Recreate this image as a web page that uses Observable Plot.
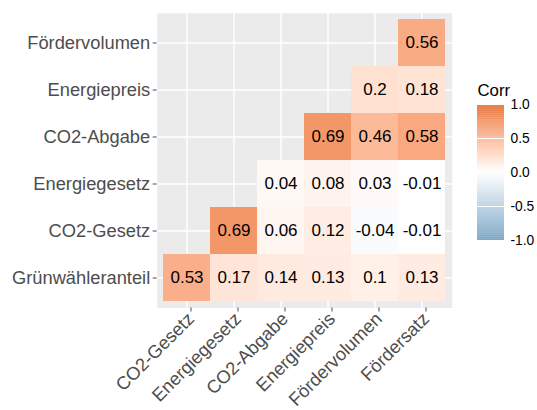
<!DOCTYPE html>
<html>
<head>
<meta charset="utf-8">
<script src="https://cdn.jsdelivr.net/npm/d3@7"></script>
<script src="https://cdn.jsdelivr.net/npm/@observablehq/plot@0.6"></script>
<style>
  html, body { margin: 0; padding: 0; background: #fff; }
  #chart { position: relative; width: 537px; height: 410px; font-family: "Liberation Sans", Arial, sans-serif; }
  #chart svg { position: absolute; left: 0; top: 0; }
</style>
</head>
<body>
<div id="chart"></div>
<script>
// Variables (rows bottom -> top, columns left -> right)
const rowVars = ["Grünwähleranteil", "CO2-Gesetz", "Energiegesetz", "CO2-Abgabe", "Energiepreis", "Fördervolumen"];
const colVars = ["CO2-Gesetz", "Energiegesetz", "CO2-Abgabe", "Energiepreis", "Fördervolumen", "Fördersatz"];

// Correlation values per row, aligned to colVars (null = not shown)
const gruenwaehleranteil = [0.53, 0.17, 0.14, 0.13, 0.1, 0.13];
const co2Gesetz          = [null, 0.69, 0.06, 0.12, -0.04, -0.01];
const energiegesetz      = [null, null, 0.04, 0.08, 0.03, -0.01];
const co2Abgabe          = [null, null, null, 0.69, 0.46, 0.58];
const energiepreis       = [null, null, null, null, 0.2, 0.18];
const foerdervolumen     = [null, null, null, null, null, 0.56];

const legendTicks = [-1, -0.5, 0, 0.5, 1];
const legendTitle = "Corr";

const rowValues = [gruenwaehleranteil, co2Gesetz, energiegesetz, co2Abgabe, energiepreis, foerdervolumen];
const cells = [];
rowVars.forEach((r, i) => {
  rowValues[i].forEach((v, j) => {
    if (v !== null) cells.push({row: r, col: colVars[j], value: v});
  });
});

const colorScale = {
  type: "linear",
  domain: [-1, 0, 1],
  range: ["#6D9EC1", "#FFFFFF", "#E46726"],
  interpolate: "lab"
};

const font = "'Liberation Sans', Arial, sans-serif";

const main = Plot.plot({
  width: 537,
  height: 410,
  marginLeft: 156.7,
  marginRight: 85.3,
  marginTop: 12.7,
  marginBottom: 102.5,
  style: {fontFamily: font, background: "transparent"},
  x: {type: "band", domain: colVars, paddingInner: 0, paddingOuter: 0.1},
  y: {type: "band", domain: [...rowVars].reverse(), paddingInner: 0, paddingOuter: 0.1},
  color: colorScale,
  marks: [
    Plot.frame({fill: "#EBEBEB", stroke: null}),
    Plot.gridX({stroke: "#FFFFFF", strokeOpacity: 1, strokeWidth: 1.4}),
    Plot.gridY({stroke: "#FFFFFF", strokeOpacity: 1, strokeWidth: 1.4}),
    Plot.cell(cells, {x: "col", y: "row", fill: "value", inset: 0}),
    Plot.text(cells, {x: "col", y: "row", text: d => String(d.value), fill: "black", fontSize: 17}),
    Plot.axisY({anchor: "left", tickSize: 4, tickPadding: 3, fontSize: 18.3, color: "#4D4D4D", label: null}),
    Plot.axisX({anchor: "bottom", tickSize: 4, tickPadding: 4, tickRotate: -45, dx: 4, fontSize: 18.3, color: "#4D4D4D", label: null})
  ]
});

const rampStep = 0.01;
const ramp = d3.range(-1, 1, rampStep).map(v => ({v0: v, v1: Math.min(1, v + rampStep + 0.002)}));

const legend = Plot.plot({
  width: 537,
  height: 410,
  marginLeft: 477,
  marginRight: 33,
  marginTop: 104,
  marginBottom: 170,
  style: {fontFamily: font, background: "transparent"},
  x: {domain: [0, 1], axis: null},
  y: {domain: [-1, 1], axis: null},
  color: colorScale,
  marks: [
    Plot.rect(ramp, {x1: 0, x2: 1, y1: "v0", y2: "v1", fill: d => (d.v0 + d.v1) / 2}),
    Plot.tickY(legendTicks, {y: d => d, x1: 0, x2: 0.2, stroke: "white", strokeWidth: 1}),
    Plot.tickY(legendTicks, {y: d => d, x1: 0.8, x2: 1, stroke: "white", strokeWidth: 1}),
    Plot.axisY(legendTicks, {anchor: "right", tickSize: 0, tickPadding: 6, fontSize: 13.8, color: "black", tickFormat: d => d.toFixed(1), label: null}),
    Plot.text([legendTitle], {frameAnchor: "top-left", dy: -9, lineAnchor: "bottom", textAnchor: "start", fontSize: 16.8, fill: "black"})
  ]
});

const chart = document.getElementById("chart");
chart.appendChild(main);
chart.appendChild(legend);
</script>
</body>
</html>
